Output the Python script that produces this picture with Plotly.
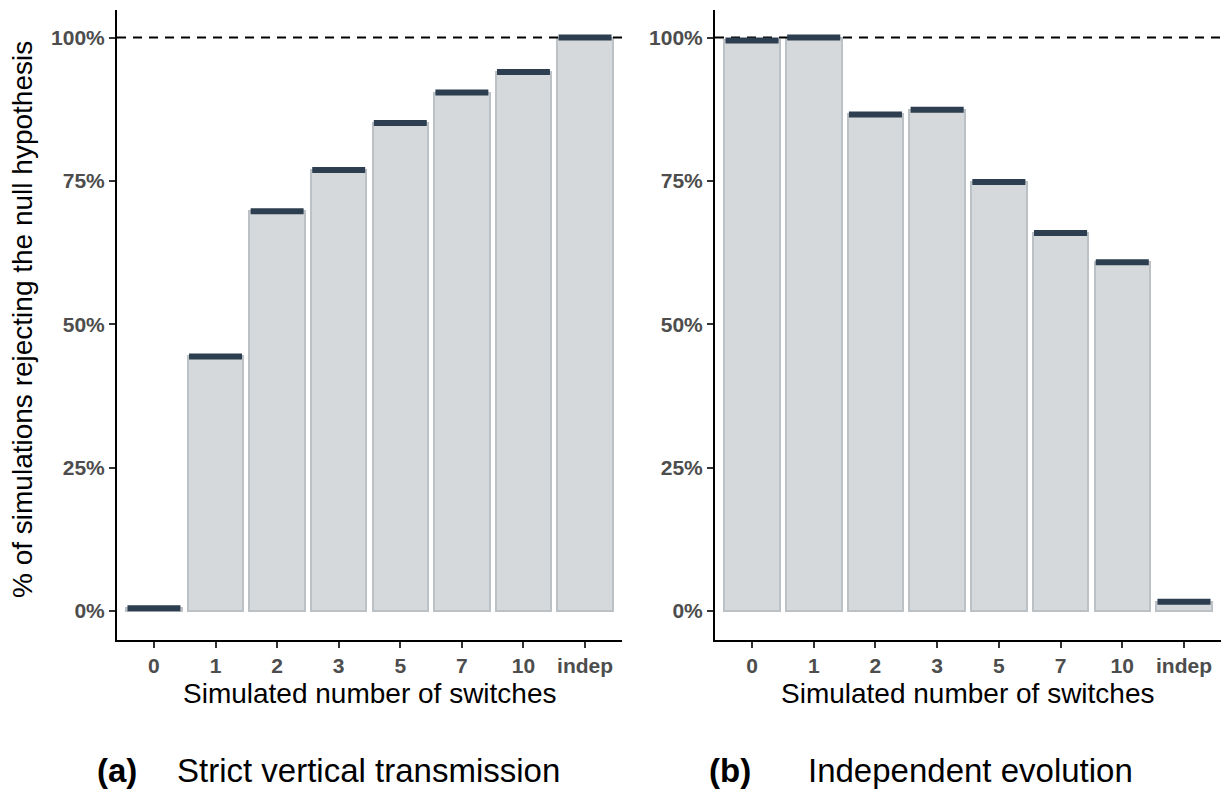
import plotly.graph_objects as go

# Simulated number of switches (categories) and % of simulations rejecting H0
categories = ["0", "1", "2", "3", "5", "7", "10", "indep"]
strict_vertical = [0.5, 44.4, 69.7, 76.9, 85.1, 90.4, 94.0, 100.0]
independent = [99.5, 100.0, 86.6, 87.4, 74.8, 65.9, 60.8, 1.6]
y_ticks = [0, 25, 50, 75, 100]
y_tick_labels = ["0%", "25%", "50%", "75%", "100%"]
reference_level = 100
panel_tags = ["(a)", "(b)"]
panel_titles = ["Strict vertical transmission", "Independent evolution"]
x_title = "Simulated number of switches"
y_title = "% of simulations rejecting the null hypothesis"

FONT = "Liberation Sans, Arial, Helvetica, sans-serif"
BAR_FILL = "#d5d9dc"
BAR_EDGE = "#bcc1c5"
CAP_COLOR = "#2c3e50"
BAR_W = 0.9

W, H = 1222, 789
panels = [
    dict(values=strict_vertical, xa="x", ya="y", dom=(117 / W, 622 / W)),
    dict(values=independent, xa="x2", ya="y2", dom=(715 / W, 1221 / W)),
]
y_dom = (1 - 640 / H, 1 - 10 / H)
pos = list(range(len(categories)))

fig = go.Figure()
for p in panels:
    vals = p["values"]
    # dashed reference line at 100%, drawn beneath the bars
    fig.add_trace(go.Scatter(
        x=[-0.6, len(categories) - 0.4], y=[reference_level] * 2,
        mode="lines", xaxis=p["xa"], yaxis=p["ya"],
        line=dict(color="black", width=2, dash="9px,7px"),
        showlegend=False, hoverinfo="skip",
    ))
    fig.add_trace(go.Bar(
        x=pos, y=vals, width=BAR_W, xaxis=p["xa"], yaxis=p["ya"],
        marker=dict(color=BAR_FILL, line=dict(color=BAR_EDGE, width=2)),
        showlegend=False, hoverinfo="skip",
    ))
    # dark cap segment at each bar's value
    cx, cy = [], []
    for i, v in zip(pos, vals):
        cx += [i - BAR_W / 2 + 0.02, i + BAR_W / 2 - 0.02, None]
        cy += [v, v, None]
    fig.add_trace(go.Scatter(
        x=cx, y=cy, mode="lines", xaxis=p["xa"], yaxis=p["ya"],
        line=dict(color=CAP_COLOR, width=6), showlegend=False, hoverinfo="skip",
    ))

axis_common = dict(
    showline=True, linecolor="black", linewidth=2,
    ticks="outside", ticklen=6, tickwidth=2, tickcolor="#333333",
    showgrid=False, zeroline=False,
    tickfont=dict(family=FONT, size=21, color="#4d4d4d", weight="bold"),
)

layout = dict(
    width=W, height=H, margin=dict(l=0, r=0, t=0, b=0),
    paper_bgcolor="white", plot_bgcolor="white",
    font=dict(family=FONT, color="black"),
    bargap=0,
)
for k, p in enumerate(panels):
    sx = "" if k == 0 else "2"
    layout["xaxis" + sx] = dict(
        axis_common, domain=p["dom"], range=[-0.6, len(categories) - 0.4],
        tickvals=pos, ticktext=categories, anchor="y" + sx,
    )
    layout["yaxis" + sx] = dict(
        axis_common, domain=y_dom, range=[-5.05, 104.8],
        tickvals=y_ticks, ticktext=y_tick_labels, anchor="x" + sx,
    )
fig.update_layout(**layout)

ann = []
# axis titles
for k, p in enumerate(panels):
    cx = (p["dom"][0] + p["dom"][1]) / 2
    ann.append(dict(text=x_title, x=cx, y=1 - 693 / H, xref="paper", yref="paper",
                    showarrow=False, font=dict(family=FONT, size=28, color="black"),
                    xanchor="center", yanchor="middle"))
ann.append(dict(text=y_title, x=22 / W, y=1 - 320 / H, xref="paper", yref="paper",
                showarrow=False, textangle=-90,
                font=dict(family=FONT, size=28, color="black"),
                xanchor="center", yanchor="middle"))
# panel captions
tag_x = [95, 707]
title_x = [175, 806]
for k in range(2):
    ann.append(dict(text="<b>" + panel_tags[k] + "</b>", x=tag_x[k] / W, y=1 - 770 / H,
                    xref="paper", yref="paper", showarrow=False,
                    font=dict(family=FONT, size=33, color="black"),
                    xanchor="left", yanchor="middle"))
    ann.append(dict(text=panel_titles[k], x=title_x[k] / W, y=1 - 770 / H,
                    xref="paper", yref="paper", showarrow=False,
                    font=dict(family=FONT, size=33, color="black"),
                    xanchor="left", yanchor="middle"))
fig.update_layout(annotations=ann)

fig.write_html("out.html")
